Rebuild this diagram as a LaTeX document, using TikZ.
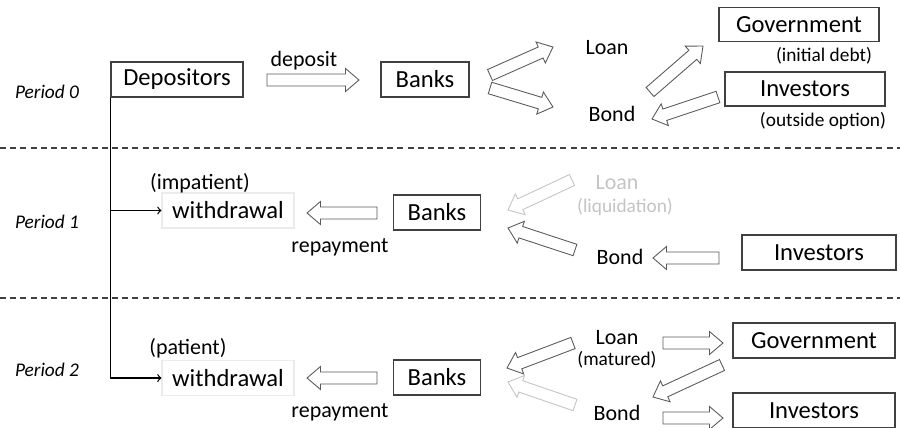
\documentclass[tikz,border=0pt]{standalone}
\usepackage{fontspec}
\setmainfont{Carlito}
\usetikzlibrary{positioning,calc}

\definecolor{boxline}{HTML}{404040}
\definecolor{arrline}{HTML}{5A5A5A}
\definecolor{faded}{HTML}{C4C4C4}

% hollow block arrow from #2 to #3
\newcommand{\flowarrow}[3][]{%
    \coordinate (fa-n) at ($(#3)!0.27cm!(#2)$);
    \draw[flow,#1] ($(#2)!0.12cm!90:(#3)$) -- ($(fa-n)!0.12cm!90:(#3)$)
        -- ($(fa-n)!0.23cm!90:(#3)$) -- (#3)
        -- ($(fa-n)!0.23cm!-90:(#3)$) -- ($(fa-n)!0.12cm!-90:(#3)$)
        -- ($(#2)!0.12cm!-90:(#3)$) -- cycle;}

\begin{document}
\begin{tikzpicture}[
        x=0.02cm, y=-0.02cm,
        agent/.style={
            rectangle, draw=boxline, line width=0.6pt, minimum height=0.7cm,
            inner sep=2pt, font=\fontsize{14}{16}\selectfont
        },
        wbox/.style={agent, draw=black!8},
        txt/.style={inner sep=0.5pt, font=\fontsize{12.5}{15}\selectfont},
        note/.style={inner sep=0.5pt, font=\fontsize{11}{13}\selectfont},
        period/.style={inner sep=1pt, font=\fontsize{11}{13}\selectfont\itshape},
        flow/.style={draw=arrline, fill=white, line width=0.5pt, line join=miter},
        fadedflow/.style={flow, draw=faded},
        sep/.style={draw=black!75, line width=0.6pt, dash pattern=on 3.4pt off 2.4pt},
        link/.style={->, draw=black, line width=0.7pt}
    ]
    \useasboundingbox (0,0) rectangle (900,427);

    % Period 0
    \node[period] (p0) at (47,92) {Period 0};
    \node[agent, minimum width=2.64cm] (dep) at (177,79.5) {Depositors};
    \node[txt] (dlab) at (304,61) {deposit};
    \node[agent, minimum width=1.76cm] (bank0) at (425,79.5) {Banks};
    \node[txt] (loan0) at (607,48) {Loan};
    \node[txt] (bond0) at (612,114) {Bond};
    \node[agent, minimum width=3.2cm, minimum height=0.68cm] (gov0) at (799,24.5) {Government};
    \node[note] (debt) at (824,56) {(initial debt)};
    \node[agent, minimum width=3.2cm, minimum height=0.68cm] (inv0) at (805,89) {Investors};
    \node[note] (outopt) at (823,121) {(outside option)};

    % Separators
    \draw[sep] (0,148) -- (900,148);
    \draw[sep] (0,298) -- (900,298);

    % Period 1
    \node[period] (p1) at (47,222) {Period 1};
    \node[wbox, minimum width=2.64cm] (wd1) at (228,210.5) {withdrawal};
    \node[txt] (imp) at (200,183) {(impatient)};
    \node[txt] (rep1) at (340,247) {repayment};
    \node[agent, minimum width=1.74cm] (bank1) at (437,212.5) {Banks};
    \node[txt, text=faded] (loan1) at (617,183) {Loan};
    \node[note, text=faded] (liq) at (625,207) {(liquidation)};
    \node[txt] (bond1) at (620,257) {Bond};
    \node[agent, minimum width=3.08cm] (inv1) at (819,252.5) {Investors};

    % Period 2
    \node[period] (p2) at (47,370) {Period 2};
    \node[wbox, minimum width=2.64cm] (wd2) at (228,378) {withdrawal};
    \node[txt] (pat) at (188,348) {(patient)};
    \node[txt] (rep2) at (340,412) {repayment};
    \node[agent, minimum width=1.74cm] (bank2) at (437,377.5) {Banks};
    \node[txt] (loan2) at (617,338) {Loan};
    \node[note] (mat) at (617,360) {(matured)};
    \node[txt] (bond2) at (617,413) {Bond};
    \node[agent, minimum width=3.24cm] (gov2) at (814,340.5) {Government};
    \node[agent, minimum width=3.24cm] (inv2) at (814,410.5) {Investors};

    % Depositors -> withdrawals
    \draw[line width=0.7pt] (dep.south west) -- (dep.south west |- wd2.west);
    \draw[link] (dep.south west |- wd1.west) -- (wd1.west);
    \draw[link] (dep.south west |- wd2.west) -- (wd2.west);

    % Arrow ends
    \coordinate (d0s) at (267,80);  \coordinate (d0e) at (359,80);
    \coordinate (l0s) at (490,75);  \coordinate (l0e) at (553,47);
    \coordinate (b0s) at (490,88);  \coordinate (b0e) at (553,107);
    \coordinate (g0s) at (650,92);  \coordinate (g0e) at (703,46);
    \coordinate (i0s) at (718,97);  \coordinate (i0e) at (652,119);

    \coordinate (r1s) at (377,213); \coordinate (r1e) at (307,213);
    \coordinate (l1s) at (572,180); \coordinate (l1e) at (508,210);
    \coordinate (b1s) at (575,250); \coordinate (b1e) at (508,228);
    \coordinate (i1s) at (719,258); \coordinate (i1e) at (653,258);

    \coordinate (r2s) at (377,378); \coordinate (r2e) at (307,378);
    \coordinate (l2s) at (573,343); \coordinate (l2e) at (507,368);
    \coordinate (b2s) at (575,405); \coordinate (b2e) at (508,382);
    \coordinate (g2s) at (663,343); \coordinate (g2e) at (723,343);
    \coordinate (v2s) at (722,365); \coordinate (v2e) at (653,397);
    \coordinate (n2s) at (663,418); \coordinate (n2e) at (723,418);

    % Flows
    \flowarrow{d0s}{d0e}
    \flowarrow{l0s}{l0e}
    \flowarrow{b0s}{b0e}
    \flowarrow{g0s}{g0e}
    \flowarrow{i0s}{i0e}

    \flowarrow{r1s}{r1e}
    \flowarrow[fadedflow]{l1s}{l1e}
    \flowarrow{b1s}{b1e}
    \flowarrow{i1s}{i1e}

    \flowarrow{r2s}{r2e}
    \flowarrow{l2s}{l2e}
    \flowarrow[fadedflow]{b2s}{b2e}
    \flowarrow{g2s}{g2e}
    \flowarrow{v2s}{v2e}
    \flowarrow{n2s}{n2e}
\end{tikzpicture}
\end{document}
